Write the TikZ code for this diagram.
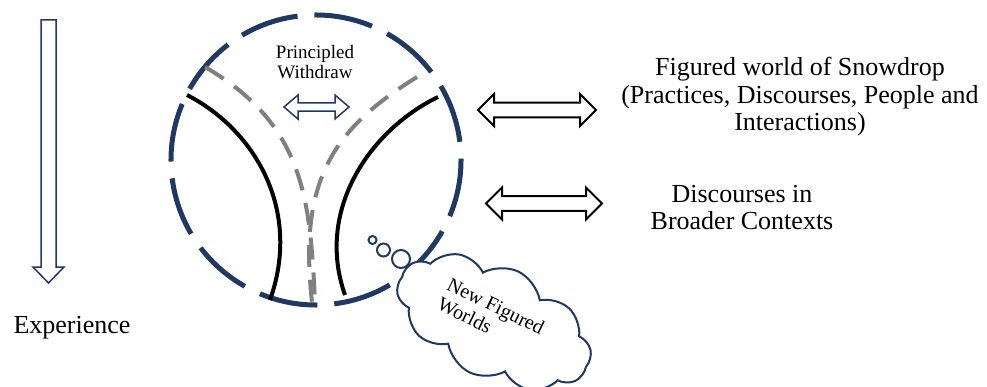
\documentclass[tikz,border=0pt]{standalone}
\usepackage{fontspec}
\setmainfont{Liberation Serif}
\usetikzlibrary{shapes.symbols}

\definecolor{navy}{HTML}{1F3864}
\definecolor{midgray}{HTML}{808080}

\tikzset{
    ring/.style={navy, line width=5pt, dash pattern=on 59pt off 16.9pt},
    branch/.style={black, line width=4pt},
    grayroute/.style={midgray, line width=4pt, dash pattern=on 22pt off 13pt},
    hollow/.style={draw=black, fill=white, line width=2pt, line join=miter},
    bubble/.style={draw=navy, line width=2pt},
    bigtext/.style={font=\fontsize{26}{27.5}\selectfont, align=center, inner sep=0pt},
    smalltext/.style={font=\fontsize{19}{20}\selectfont, align=center, inner sep=0pt}
}

\begin{document}
\begin{tikzpicture}[x=1pt, y=1pt]
    \useasboundingbox (0,0) rectangle (987,-387);

    % experience arrow
    \draw[hollow, draw=navy, line width=1.5pt]
        (41,-20) -- (56,-20) -- (56,-267) -- (64,-267) -- (48.5,-283)
        -- (33,-267) -- (41,-267) -- cycle;
    \node[bigtext, anchor=base] (experience) at (72,-333) {Experience};

    % thought bubbles
    \draw[bubble] (372.5,-240) circle (4);
    \draw[bubble] (383.5,-250) circle (6.5);
    \draw[bubble] (401,-259) circle (9);

    % the world
    \draw[ring] (316,-160) ++(7.34:145) arc[start angle=7.34, end angle=367.34, radius=145];

    \draw[grayroute] (205,-67) .. controls (305,-125) and (310,-200) .. (315,-302);
    \draw[grayroute] (417,-77) .. controls (335,-128) and (298,-178) .. (312,-302);

    \draw[branch] (187,-95) .. controls (255,-130) and (302,-210) .. (270,-300);
    \draw[branch] (438,-97) .. controls (370,-130) and (315,-210) .. (345,-295);

    \node[smalltext, anchor=north] (withdraw) at (315,-45) {Principled\\Withdraw};
    \draw[hollow, draw=navy, line width=1.5pt]
        (284,-107) -- (298,-95) -- (298,-102.8) -- (335,-102.8) -- (335,-95)
        -- (349,-107) -- (335,-119) -- (335,-111.2) -- (298,-111.2)
        -- (298,-119) -- cycle;

    % new worlds
    \node[cloud, draw=navy, fill=white, line width=2pt, cloud puffs=10,
        cloud puff arc=110, minimum width=208pt, minimum height=112pt,
        rotate=-26] (cloud) at (494,-322) {};
    \node[font=\fontsize{20}{22}\selectfont, align=left, inner sep=0pt,
        rotate=-26] (newworlds) at (491,-316) {New Figured\\Worlds};

    % outside
    \foreach \l/\r/\y in {478/596/-110, 486/602/-203.5} {
        \draw[hollow] (\l,\y) -- (\l+16,\y+16) -- (\l+16,\y+7.3) -- (\r-16,\y+7.3)
            -- (\r-16,\y+16) -- (\r,\y) -- (\r-16,\y-16) -- (\r-16,\y-7.3)
            -- (\l+16,\y-7.3) -- (\l+16,\y-16) -- cycle;
    }
    \node[bigtext, anchor=north] (snowdrop) at (800,-57)
        {Figured world of Snowdrop\\(Practices, Discourses, People and\\Interactions)};
    \node[bigtext, anchor=north] (broader) at (742,-185)
        {Discourses in\\Broader Contexts};
\end{tikzpicture}
\end{document}
